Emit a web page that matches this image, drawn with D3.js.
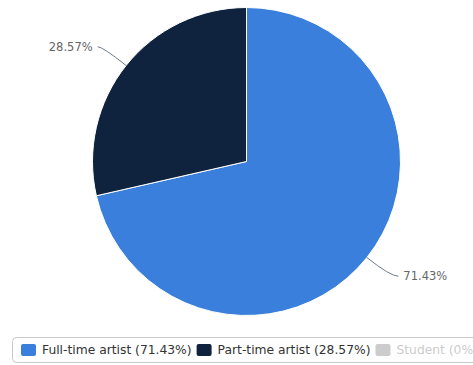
<!DOCTYPE html>
<html>
<head>
<meta charset="utf-8">
<script src="https://cdn.jsdelivr.net/npm/d3@7"></script>
<style>
  html, body { margin: 0; padding: 0; background: #fff; }
  svg { display: block; font-family: "DejaVu Sans", Verdana, sans-serif; }
</style>
</head>
<body>
<svg id="chart" width="473" height="365"></svg>
<script>
// Share of respondents by artist status
const categories = ["Full-time artist", "Part-time artist", "Student"];
const values = [71.43, 28.57, 0];
const visible = [true, true, false];
const colors = ["#3a7fdc", "#10233e", "#cccccc"];

const W = 473, H = 365;
const cx = 246.5, cy = 161.5, radius = 154;
const svg = d3.select("#chart");

const data = categories.map((c, i) => ({ name: c, value: values[i], color: colors[i], visible: visible[i] }));
const shown = data.filter(d => d.visible && d.value > 0);

const pie = d3.pie().sort(null).value(d => d.value);
const arcs = pie(shown);
const arc = d3.arc().innerRadius(0).outerRadius(radius);

const g = svg.append("g").attr("transform", `translate(${cx},${cy})`);

g.selectAll("path.slice")
  .data(arcs)
  .join("path")
  .attr("class", "slice")
  .attr("d", arc)
  .attr("fill", d => d.data.color)
  .attr("stroke", "#ffffff")
  .attr("stroke-width", 1)
  .attr("stroke-linejoin", "round");

// Data labels with connector lines
const fmt = v => v.toFixed(2) + "%";
const labelDist = 30;
arcs.forEach(a => {
  const mid = (a.startAngle + a.endAngle) / 2;
  const sx = Math.sin(mid), sy = -Math.cos(mid);
  const p0 = [sx * radius, sy * radius];
  const p1 = [sx * (radius + labelDist), sy * (radius + labelDist)];
  const right = sx >= 0;
  const p2 = [p1[0] + (right ? 8 : -5), p1[1]];
  g.append("path")
    .attr("d", `M${p0[0]},${p0[1]} Q${p1[0]},${p1[1]} ${p2[0]},${p2[1]}`)
    .attr("fill", "none")
    .attr("stroke", "#6d7b8c")
    .attr("stroke-width", 1);
  g.append("text")
    .attr("x", p2[0] + (right ? 5 : -5))
    .attr("y", p2[1])
    .attr("dy", "0.35em")
    .attr("text-anchor", right ? "start" : "end")
    .attr("fill", "#666666")
    .attr("font-size", 11.5)
    .text(fmt(a.data.value));
});

// Legend
const legend = svg.append("g");
legend.append("rect")
  .attr("x", 12.5).attr("y", 337.5)
  .attr("width", 480).attr("height", 25)
  .attr("rx", 4)
  .attr("fill", "#ffffff")
  .attr("stroke", "#c8c8c8");

let lx = 21;
data.forEach(d => {
  const item = legend.append("g").attr("transform", `translate(${lx},0)`);
  item.append("rect")
    .attr("x", 0).attr("y", 344)
    .attr("width", 15).attr("height", 12)
    .attr("rx", 2)
    .attr("fill", d.visible ? d.color : "#cccccc");
  const t = item.append("text")
    .attr("x", 21).attr("y", 350)
    .attr("dy", "0.35em")
    .attr("font-size", 12.3)
    .attr("fill", d.visible ? "#333333" : "#cccccc")
    .text(`${d.name} (${fmt(d.value).replace(".00", "")})`);
  lx += 21 + t.node().getComputedTextLength() + 5;
});
</script>
</body>
</html>
